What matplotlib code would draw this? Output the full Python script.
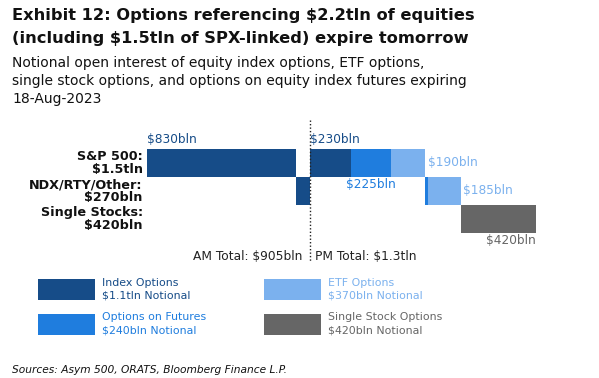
import matplotlib
matplotlib.use("Agg")
import matplotlib.pyplot as plt
from matplotlib.patches import Rectangle

# ---------------- data ----------------
categories = ["S&P 500:\n$1.5tln", "NDX/RTY/Other:\n$270bln", "Single Stocks:\n$420bln"]
# segments in waterfall order: (row index, value in $bln, type)
seg_rows = [0, 1, 0, 0, 0, 1, 1, 2]
seg_values = [830, 75, 230, 225, 190, 15, 180, 420]
seg_types = ["index", "index", "index", "futures", "etf", "futures", "etf", "single"]
seg_labels = ["$830bln", None, "$230bln", "$225bln", "$190bln", None, "$185bln", "$420bln"]
am_total_label = "AM Total: $905bln"
pm_total_label = "PM Total: $1.3tln"
am_total = 905
legend_titles = ["Index Options", "Options on Futures", "ETF Options", "Single Stock Options"]
legend_notional = ["$1.1tln Notional", "$240bln Notional", "$370bln Notional", "$420bln Notional"]
legend_types = ["index", "futures", "etf", "single"]
title_lines = ["Exhibit 12: Options referencing $2.2tln of equities",
               "(including $1.5tln of SPX-linked) expire tomorrow"]
subtitle_lines = ["Notional open interest of equity index options, ETF options,",
                  "single stock options, and options on equity index futures expiring",
                  "18-Aug-2023"]
source_text = "Sources: Asym 500, ORATS, Bloomberg Finance L.P."

colors = {"index": "#164C88", "futures": "#1F7DDE", "etf": "#7BB1EE", "single": "#666666"}

W, H = 599, 378
fig = plt.figure(figsize=(W / 100, H / 100), dpi=100)
plt.rcParams["font.family"] = ["DejaVu Sans"]

def fx(px):
    return px / W

def fy(py):
    return 1 - py / H

# ---------------- title ----------------
for line, base in zip(title_lines, [20, 43]):
    fig.text(fx(12), fy(base), line, fontsize=11.7, fontweight="bold", va="baseline",
             ha="left", color="#111111")
for line, base in zip(subtitle_lines, [67, 85, 103.5]):
    fig.text(fx(12), fy(base), line, fontsize=10.0, va="baseline", ha="left", color="#111111")

# ---------------- main axes ----------------
x0_px, x1_px = 147, 545
scale = (536 - 147) / 2165.0  # px per bln
top_px, bot_px = 149, 233
row_px = (bot_px - top_px) / 3.0
ax = fig.add_axes([fx(x0_px), fy(bot_px), (x1_px - x0_px) / W, (bot_px - top_px) / H])
ax.set_xlim(0, (x1_px - x0_px) / scale)
ax.set_ylim(2.5, -0.5)
ax.axis("off")

left = 0
for r, v, t, lab in zip(seg_rows, seg_values, seg_types, seg_labels):
    ax.barh(r, v, left=left, height=1.0, color=colors[t], edgecolor="none")
    if lab is not None:
        c = colors[t]
        if t == "index":
            ax.annotate(lab, (left, r - 0.5), xytext=(0, 2), textcoords="offset points",
                        ha="left", va="bottom", fontsize=8.7, color=c)
        elif t == "futures":
            ax.annotate(lab, (left + v / 2, r + 0.5), xytext=(0, -1), textcoords="offset points",
                        ha="center", va="top", fontsize=8.7, color=c)
        elif t == "etf":
            ax.annotate(lab, (left + v, r), xytext=(2, 0), textcoords="offset points",
                        ha="left", va="center", fontsize=8.7, color=c)
        else:
            ax.annotate(lab, (left + v, r + 0.5), xytext=(0, -1), textcoords="offset points",
                        ha="right", va="top", fontsize=8.7, color=c)
    left += v

# category labels
for i, c in enumerate(categories):
    ax.annotate(c, (0, i), xytext=(-3, 0), textcoords="offset points", ha="right", va="center",
                fontsize=9.2, fontweight="bold", linespacing=0.98, color="#111111",
                annotation_clip=False)

# dotted AM/PM separator (from pixel y 120 to 262)
y_top = -0.5 - (top_px - 120) / row_px
y_bot = 2.5 + (262 - bot_px) / row_px
ax.plot([am_total, am_total], [y_top, y_bot], color="#222222", lw=1.0,
        linestyle=(0, (1, 1.5)), clip_on=False)

y_tot = 2.5 + (256 - bot_px) / row_px
ax.annotate(am_total_label, (am_total, y_tot), xytext=(-5, 0), textcoords="offset points",
            ha="right", va="center", fontsize=8.8, color="#222222", annotation_clip=False)
ax.annotate(pm_total_label, (am_total, y_tot), xytext=(4, 0), textcoords="offset points",
            ha="left", va="center", fontsize=8.8, color="#222222", annotation_clip=False)

# ---------------- legend ----------------
lax = fig.add_axes([0, 0, 1, 1])
lax.set_xlim(0, W)
lax.set_ylim(H, 0)
lax.axis("off")
pos = [(38, 279), (38, 314), (264, 279), (264, 314)]
for (px, py), t, ttl, nt in zip(pos, legend_types, legend_titles, legend_notional):
    lax.add_patch(Rectangle((px, py), 57, 21, facecolor=colors[t], edgecolor="none"))
    lax.text(px + 64, py + 3.5, ttl, ha="left", va="center", fontsize=7.9, color=colors[t])
    lax.text(px + 64, py + 16.5, nt, ha="left", va="center", fontsize=7.9, color=colors[t])

fig.text(fx(12), fy(370), source_text, fontsize=7.65,
         style="italic", ha="left", va="center", color="#111111")

fig.savefig("out.png", dpi=100)
